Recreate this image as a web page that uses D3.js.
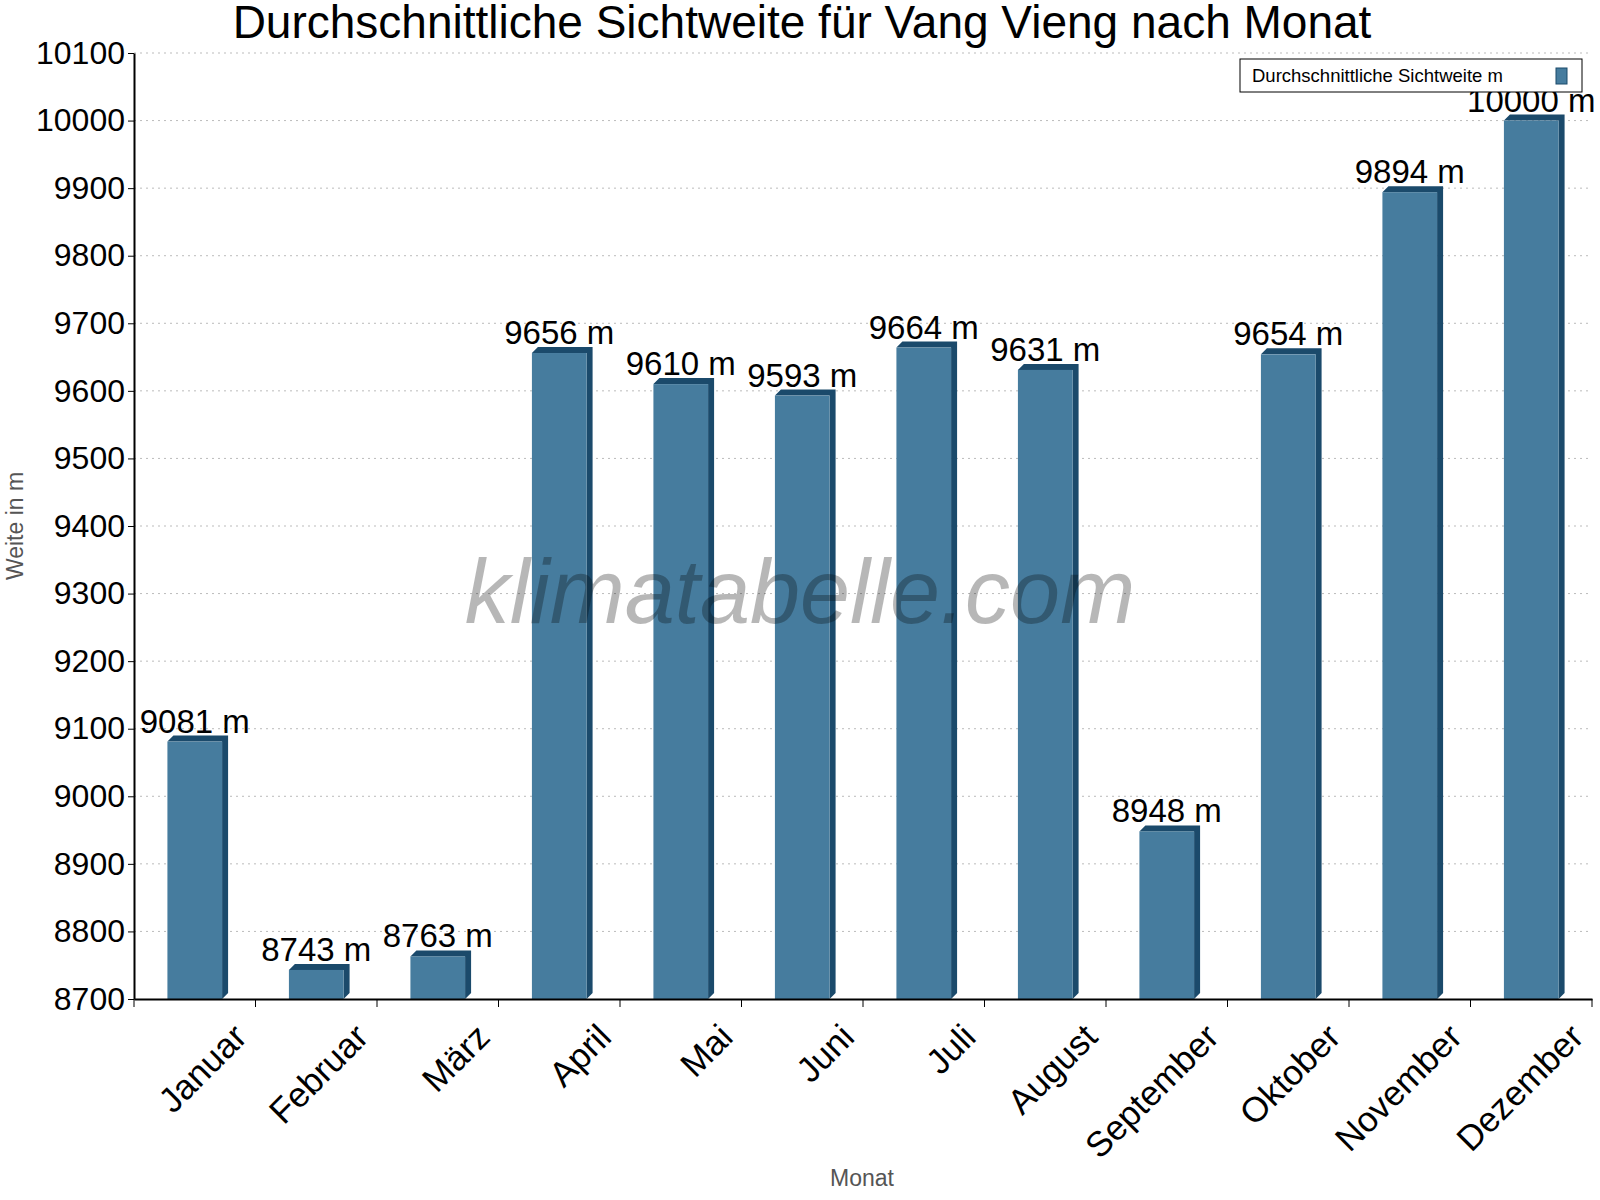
<!DOCTYPE html>
<html><head><meta charset="utf-8">
<script src="https://cdn.jsdelivr.net/npm/d3@7"></script>
<style>body{margin:0;background:#fff;font-family:Arial,"Liberation Sans",sans-serif}</style>
</head><body><svg id="c" width="1600" height="1200"></svg>
<script>
var months = ["Januar","Februar","März","April","Mai","Juni","Juli","August","September","Oktober","November","Dezember"];
var visibility = [9081,8743,8763,9656,9610,9593,9664,9631,8948,9654,9894,10000];
var yTicks = [8700,8800,8900,9000,9100,9200,9300,9400,9500,9600,9700,9800,9900,10000,10100];

var margin = {top: 53, right: 8, bottom: 201, left: 134};
var W = 1600, H = 1200;
var w = W - margin.left - margin.right, h = H - margin.top - margin.bottom;
var svg = d3.select("#c");
var g = svg.append("g").attr("transform","translate("+margin.left+","+margin.top+")");

var x = d3.scaleBand().domain(months).range([0,w]);
var y = d3.scaleLinear().domain([8700,10100]).range([h,0]);
var dep = 6;

// grid
g.selectAll(".grid").data(yTicks.slice(1)).enter().append("line")
  .attr("x1",0).attr("x2",w).attr("y1",d=>y(d)).attr("y2",d=>y(d))
  .attr("stroke","#bbb").attr("stroke-dasharray","2,4");

svg.append("text").attr("x",802).attr("y",38).attr("text-anchor","middle")
  .attr("font-size",46).text("Durchschnittliche Sichtweite für Vang Vieng nach Monat");

var bw = x.bandwidth()*0.45;
var bars = g.selectAll(".bar").data(months).enter().append("g");
bars.each(function(m,i){
  var gx = x(m) + (x.bandwidth()-bw)/2, gy = y(visibility[i]);
  var s = d3.select(this);
  s.append("polygon").attr("fill","#1b4a6b")
    .attr("points",[[gx,gy],[gx+dep,gy-dep],[gx+bw+dep,gy-dep],[gx+bw+dep,h-dep],[gx+bw,h],[gx+bw,gy]].join(" "));
  s.append("rect").attr("x",gx).attr("y",gy).attr("width",bw).attr("height",h-gy).attr("fill","#467c9e");
  s.append("text").attr("x",gx+bw/2).attr("y",gy-9).attr("text-anchor","middle")
    .attr("font-size",33).text(visibility[i]+" m");
});

svg.append("text").attr("x",800).attr("y",623).attr("text-anchor","middle")
  .attr("font-size",90).attr("fill","#000").attr("opacity",0.28)
  .attr("font-style","italic").text("klimatabelle.com");

var ya = g.append("g").call(d3.axisLeft(y).tickValues(yTicks).tickFormat(d3.format("d")).tickSize(6).tickSizeOuter(0));
ya.selectAll("text").attr("font-size",32).attr("fill","#000").attr("font-family","Arial,'Liberation Sans',sans-serif");
ya.select(".domain").attr("stroke","#000").attr("stroke-width",2);

var xa = g.append("g").attr("transform","translate(0,"+h+")").call(d3.axisBottom(x).tickSize(0));
xa.select(".domain").attr("stroke","#000").attr("stroke-width",2);
xa.selectAll("text").attr("font-size",35).attr("fill","#000").attr("font-family","Arial,'Liberation Sans',sans-serif")
  .attr("text-anchor","end").attr("dy","0")
  .attr("transform","translate(52,38) rotate(-45)");
g.selectAll(".xt").data(d3.range(13)).enter().append("line")
  .attr("x1",d=>d*x.step()).attr("x2",d=>d*x.step()).attr("y1",h).attr("y2",h+8).attr("stroke","#000");

svg.append("text").attr("transform","translate(23,"+(margin.top+h/2)+") rotate(-90)")
  .attr("text-anchor","middle").attr("font-size",23).attr("fill","#555").text("Weite in m");
svg.append("text").attr("x",862).attr("y",1186).attr("text-anchor","middle")
  .attr("font-size",23).attr("fill","#555").text("Monat");

var lg = svg.append("g").attr("transform","translate(1240,59)");
lg.append("rect").attr("width",342).attr("height",33).attr("fill","#fff").attr("stroke","#000");
lg.append("text").attr("x",12).attr("y",23).attr("font-size",18.5).text("Durchschnittliche Sichtweite m");
lg.append("rect").attr("x",316).attr("y",9).attr("width",11).attr("height",16).attr("fill","#467c9e").attr("stroke","#1b4a6b");
</script></body></html>
